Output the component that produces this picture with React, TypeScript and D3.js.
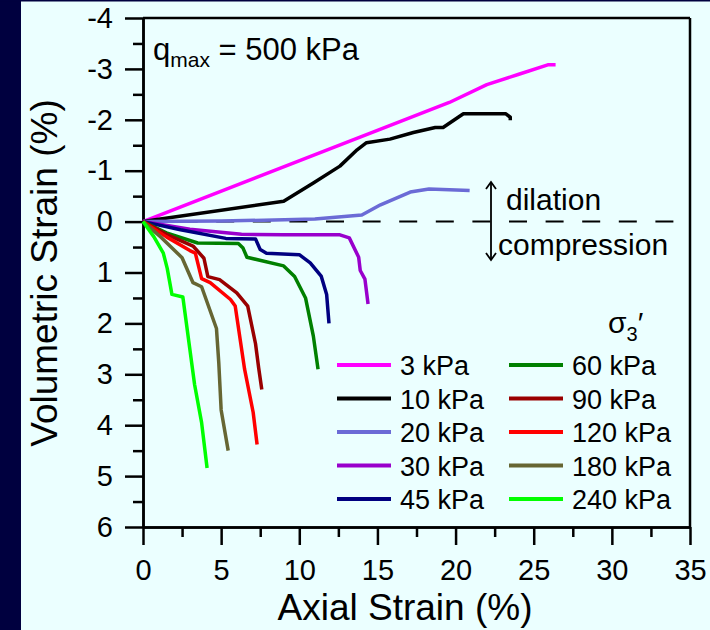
import React, { useEffect, useRef } from "react";
import * as d3 from "d3";

// axial strain (%), volumetric strain (%) ; negative = dilation
const s3: [number, number][] = [[0, 0], [15, -1.79], [19.6, -2.34], [22, -2.69], [24, -2.89], [25.9, -3.08], [26.4, -3.08]];
const s10: [number, number][] = [[0, 0], [9, -0.4], [10.9, -0.76], [12.6, -1.09], [13.7, -1.41], [14.3, -1.55], [15.8, -1.62], [17.3, -1.75], [18.7, -1.85], [19.2, -1.85], [20.5, -2.12], [23.2, -2.12], [23.5, -2.05], [23.5, -1.99]];
const s20: [number, number][] = [[0, 0], [5, -0.01], [11, -0.05], [14, -0.13], [15.2, -0.33], [17.1, -0.58], [18.3, -0.64], [20.9, -0.61]];
const s30: [number, number][] = [[0, 0], [3, 0.15], [6.3, 0.25], [9, 0.26], [12.6, 0.26], [13.2, 0.32], [13.8, 0.7], [13.9, 0.96], [14.2, 1.13], [14.4, 1.62]];
const s45: [number, number][] = [[0, 0], [2.4, 0.16], [5.3, 0.33], [7.2, 0.34], [7.5, 0.55], [7.9, 0.62], [10, 0.65], [10.7, 0.81], [11.4, 1.07], [11.75, 1.43], [11.9, 2.0]];
const s60: [number, number][] = [[0, 0], [1.5, 0.22], [3.5, 0.42], [6.1, 0.43], [6.4, 0.52], [6.65, 0.7], [9, 0.87], [9.7, 1.08], [10.4, 1.5], [10.9, 2.25], [11.2, 2.9]];
const s90: [number, number][] = [[0, 0], [1.5, 0.25], [3.2, 0.48], [3.9, 0.72], [4.15, 1.08], [4.9, 1.14], [6.0, 1.4], [6.7, 1.66], [7.2, 2.4], [7.4, 2.87], [7.6, 3.3]];
const s120: [number, number][] = [[0, 0], [1.5, 0.3], [3.0, 0.57], [3.35, 0.62], [3.75, 1.12], [4.3, 1.2], [5.6, 1.53], [5.9, 1.66], [6.5, 2.9], [7.05, 3.75], [7.3, 4.38]];
const s180: [number, number][] = [[0, 0], [1.2, 0.32], [2.5, 0.71], [3.2, 1.2], [3.75, 1.28], [4.7, 2.1], [4.85, 2.78], [5.0, 3.7], [5.45, 4.5]];
const s240: [number, number][] = [[0, 0], [0.7, 0.3], [1.3, 0.62], [1.55, 0.92], [1.85, 1.43], [2.55, 1.48], [3.3, 3.2], [3.75, 3.95], [4.1, 4.84]];

const labels = ["3 kPa", "10 kPa", "20 kPa", "30 kPa", "45 kPa", "60 kPa", "90 kPa", "120 kPa", "180 kPa", "240 kPa"];
const colors = ["#ff00ff", "#000000", "#6b6bd6", "#9900cc", "#000080", "#008000", "#990000", "#ff0000", "#666633", "#00ff00"];
const allSeries = [s3, s10, s20, s30, s45, s60, s90, s120, s180, s240];

const xTicks = [0, 5, 10, 15, 20, 25, 30, 35];
const yTicks = [-4, -3, -2, -1, 0, 1, 2, 3, 4, 5, 6];

const W = 710;
const H = 630;
const font = "Liberation Sans, Arial, sans-serif";

export default function App() {
  const xAxisRef = useRef<SVGGElement>(null);
  const yAxisRef = useRef<SVGGElement>(null);

  const x = d3.scaleLinear().domain([0, 35]).range([143, 690]);
  const y = d3.scaleLinear().domain([-4, 6]).range([18, 527]);
  const line = d3.line<[number, number]>().x(d => x(d[0])).y(d => y(d[1]));

  useEffect(() => {
    const gx = d3.select(xAxisRef.current);
    gx.selectAll("*").remove();
    gx.append("g")
      .call(d3.axisBottom(x).tickValues(xTicks).tickSize(18).tickSizeOuter(0).tickPadding(14).tickFormat(d => String(d)));
    gx.append("g")
      .call(d3.axisBottom(x).tickValues(xTicks.slice(0, -1).map(v => v + 2.5)).tickSize(10).tickSizeOuter(0).tickFormat(() => ""));
    gx.selectAll("path").attr("stroke-width", 2.5);
    gx.selectAll("line").attr("stroke-width", 2.5);
    gx.selectAll("text").attr("font-size", 29).attr("font-family", font).attr("fill", "#000");

    const gy = d3.select(yAxisRef.current);
    gy.selectAll("*").remove();
    gy.append("g")
      .call(d3.axisLeft(y).tickValues(yTicks).tickSize(18).tickSizeOuter(0).tickPadding(12).tickFormat(d => String(d)));
    gy.append("g")
      .call(d3.axisLeft(y).tickValues(yTicks.slice(0, -1).map(v => v + 0.5)).tickSize(10).tickSizeOuter(0).tickFormat(() => ""));
    gy.selectAll("path").attr("stroke-width", 2.5);
    gy.selectAll("line").attr("stroke-width", 2.5);
    gy.selectAll("text").attr("font-size", 29).attr("font-family", font).attr("fill", "#000");
  }, []);

  const legendRowY = (i: number) => 365 + (i % 5) * 33.5;

  return (
    <svg width={W} height={H} style={{ position: "absolute", left: 0, top: 0 }} fontFamily={font}>
      <rect x={0} y={0} width={W} height={H} fill="#ebffff" />
      <rect x={0} y={0} width={21} height={H} fill="#00003f" />
      <rect x={0} y={0} width={W} height={1.5} fill="#00003f" />

      {/* frame */}
      <line x1={x(0)} x2={x(35)} y1={y(-4)} y2={y(-4)} stroke="#000" strokeWidth={2.5} />
      <line x1={x(35)} x2={x(35)} y1={y(-4)} y2={y(6)} stroke="#000" strokeWidth={2.5} />
      <g ref={xAxisRef} transform={`translate(0,${y(6)})`} />
      <g ref={yAxisRef} transform={`translate(${x(0)},0)`} />

      {/* zero line */}
      <line x1={x(0)} x2={x(34.7)} y1={y(0)} y2={y(0)} stroke="#000" strokeWidth={2} strokeDasharray="18,18.6" />

      {allSeries.map((s, i) => (
        <path key={labels[i]} d={line(s) || ""} fill="none" stroke={colors[i]} strokeWidth={3.5} strokeLinejoin="round" />
      ))}

      {/* dilation / compression arrow */}
      <line x1={491} x2={491} y1={182} y2={260} stroke="#000" strokeWidth={1.8} />
      <path d="M486,189 L491,182 L496,189 M486,253 L491,260 L496,253" fill="none" stroke="#000" strokeWidth={1.8} />
      <text x={506} y={210} fontSize={30}>dilation</text>
      <text x={498} y={255} fontSize={30}>compression</text>

      <text x={153} y={60} fontSize={31}>
        q<tspan fontSize={21} dy={7}>max</tspan><tspan dy={-7}> = 500 kPa</tspan>
      </text>

      <text x={608} y={333} fontSize={30}>
        σ<tspan fontSize={20} dy={8}>3</tspan><tspan dy={-8}>′</tspan>
      </text>

      {labels.map((lab, i) => {
        const col = i < 5 ? 0 : 1;
        const lx = col === 0 ? 337 : 509;
        const ly = legendRowY(i);
        return (
          <g key={lab}>
            <line x1={lx} x2={lx + 54} y1={ly} y2={ly} stroke={colors[i]} strokeWidth={4} />
            <text x={lx + 63} y={ly + 10} fontSize={27}>{lab}</text>
          </g>
        );
      })}

      <text x={405} y={620} fontSize={37} textAnchor="middle">Axial Strain (%)</text>
      <text transform={`translate(57,${273}) rotate(-90)`} fontSize={37} textAnchor="middle">Volumetric Strain (%)</text>
    </svg>
  );
}
